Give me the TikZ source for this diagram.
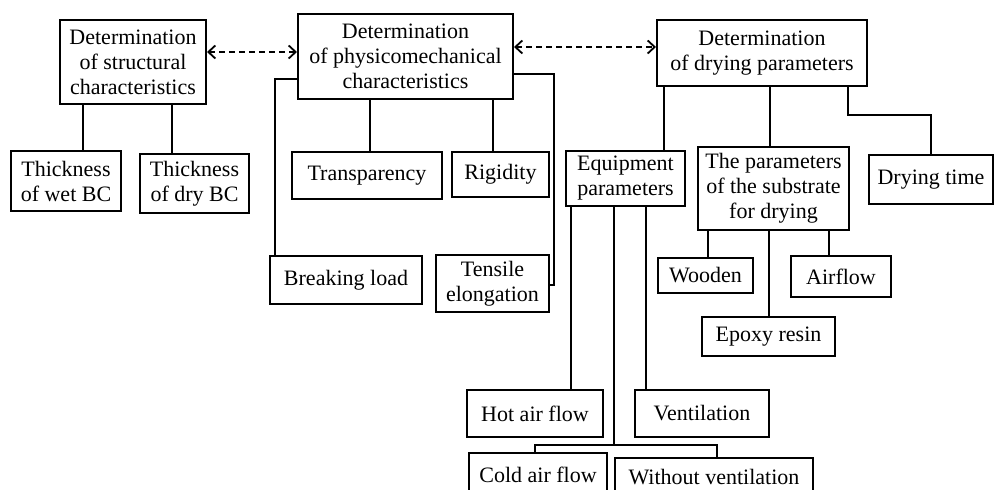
\documentclass[tikz,border=0pt]{standalone}
\usepackage{fontspec}
\setmainfont{Liberation Serif}
\usetikzlibrary{arrows.meta}
\begin{document}
\begin{tikzpicture}[x=0.5pt,y=-0.5pt,
	blk/.style={draw,line width=1pt,align=center,inner sep=1pt,font=\fontsize{11}{12.5}\selectfont},
	link/.style={line width=1pt},
	dashlink/.style={line width=0.9pt,dash pattern=on 3pt off 2pt,{Straight Barb[length=3.5pt,width=6.5pt]}-{Straight Barb[length=3.5pt,width=6.5pt]}}]
		\useasboundingbox (0,0) rectangle (994,490);
		\clip (0,0) rectangle (994,490);
		\node[blk,minimum width=73pt,minimum height=42pt] (struct) at (133,62) {Determination\\of structural\\characteristics};
		\node[blk,minimum width=107.5pt,minimum height=42.5pt] (phys) at (405.5,56.5) {Determination\\of physicomechanical\\characteristics};
		\node[blk,minimum width=105pt,minimum height=33pt] (dry) at (762,53) {Determination\\of drying parameters};
		\node[blk,minimum width=55pt,minimum height=30pt] (wet) at (66,181) {Thickness\\of wet BC};
		\node[blk,minimum width=54.5pt,minimum height=29.5pt] (drybc) at (194.5,183.5) {Thickness\\of dry BC};
		\node[blk,minimum width=75pt,minimum height=23.5pt] (transp) at (367,175.5) {Transparency};
		\node[blk,minimum width=48.5pt,minimum height=22.5pt] (rigid) at (500.5,174.5) {Rigidity};
		\node[blk,minimum width=76pt,minimum height=24pt] (breaking) at (346,280) {Breaking load};
		\node[blk,minimum width=56.5pt,minimum height=28.5pt] (tensile) at (492.5,283.5) {Tensile\\elongation};
		\node[blk,minimum width=59.5pt,minimum height=27.5pt] (equip) at (625.5,178.5) {Equipment\\parameters};
		\node[blk,minimum width=75.5pt,minimum height=41.5pt] (substr) at (773.5,188.5) {The parameters\\of the substrate\\for drying};
		\node[blk,minimum width=62pt,minimum height=24.5pt] (drytime) at (931,179.5) {Drying time};
		\node[blk,minimum width=47.5pt,minimum height=17.5pt] (wooden) at (705.5,275.5) {Wooden};
		\node[blk,minimum width=50pt,minimum height=20.5pt] (airflow) at (841,276.5) {Airflow};
		\node[blk,minimum width=66.5pt,minimum height=19.5pt] (epoxy) at (768.5,336.5) {Epoxy resin};
		\node[blk,minimum width=68pt,minimum height=23.5pt] (hot) at (535,413.5) {Hot air flow};
		\node[blk,minimum width=67pt,minimum height=23.5pt] (vent) at (702,413.5) {Ventilation};
		\node[blk,minimum width=69pt,minimum height=22pt] (cold) at (538,475) {Cold air flow};
		\node[blk,minimum width=99pt,minimum height=19pt] (without) at (714,477) {Without ventilation};
		\draw[dashlink] ([yshift=5pt]struct.east) -- ([yshift=5pt]struct.east -| phys.west);
		\draw[dashlink] ([yshift=4.75pt]phys.east) -- ([yshift=4.75pt]phys.east -| dry.west);
		\draw[link] ([xshift=8.5pt]wet.north) -- ([xshift=8.5pt]wet.north |- struct.south);
		\draw[link] ([xshift=-11.25pt]drybc.north) -- ([xshift=-11.25pt]drybc.north |- struct.south);
		\draw[link] ([xshift=1.5pt]transp.north) -- ([xshift=1.5pt]transp.north |- phys.south);
		\draw[link] ([xshift=-3.75pt]rigid.north) -- ([xshift=-3.75pt]rigid.north |- phys.south);
		\draw[link] ([yshift=-11.25pt]phys.west) -| ([xshift=3pt]breaking.north west);
		\draw[link] ([yshift=-8.75pt]phys.east) -- ++(20pt,0) |- ([yshift=-0.75pt]tensile.east);
		\draw[link] ([xshift=19.25pt]equip.north) -- ([xshift=19.25pt]equip.north |- dry.south);
		\draw[link] ([xshift=-1.75pt]substr.north) -- ([xshift=-1.75pt]substr.north |- dry.south);
		\draw[link] ([xshift=43pt]dry.south) -- ++(0,-14pt) -| (drytime.north);
		\draw[link] ([xshift=1.25pt]wooden.north) -- ([xshift=1.25pt]wooden.north |- substr.south);
		\draw[link] ([xshift=-6pt]airflow.north) -- ([xshift=-6pt]airflow.north |- substr.south);
		\draw[link] ([xshift=0.25pt]epoxy.north) -- ([xshift=0.25pt]epoxy.north |- substr.south);
		\draw[link] ([xshift=18pt]hot.north) -- ([xshift=18pt]hot.north |- equip.south);
		\draw[link] ([xshift=-28pt]vent.north) -- ([xshift=-28pt]vent.north |- equip.south);
		\draw[link] ([xshift=-5.75pt]equip.south) -- ++(0,-119pt) coordinate (fork);
		\draw[link] ([xshift=-1.5pt]cold.north) |- (fork) -| ([xshift=1.5pt]without.north);
	\end{tikzpicture}
\end{document}
